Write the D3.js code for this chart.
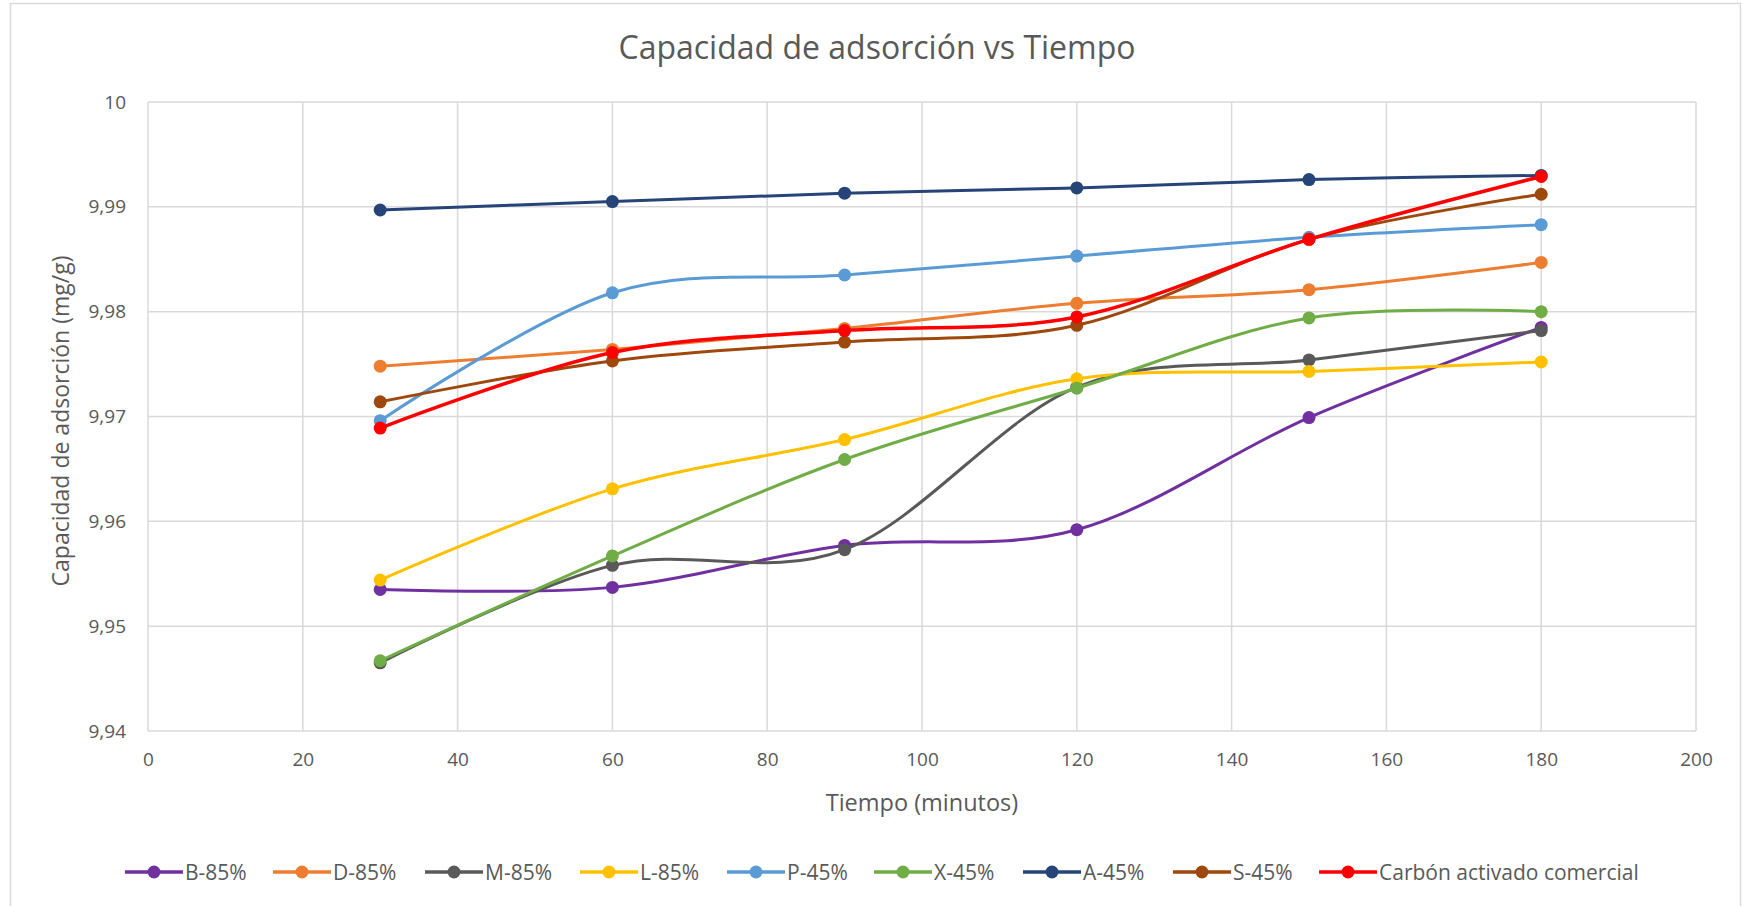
<!DOCTYPE html>
<html>
<head>
<meta charset="utf-8">
<script src="https://cdn.jsdelivr.net/npm/d3@7/dist/d3.min.js"></script>
<style>
  body { margin: 0; background: #fff; }
  text { font-family: "Open Sans", sans-serif; fill: #595959; }
</style>
</head>
<body>
<div id="chart"></div>
<script>
const times = [30, 60, 90, 120, 150, 180];
const seriesNames = ["B-85%", "D-85%", "M-85%", "L-85%", "P-45%", "X-45%", "A-45%", "S-45%", "Carbón activado comercial"];
const seriesColors = ["#7030A0", "#ED7D31", "#595959", "#FFC000", "#5B9BD5", "#70AD47", "#264478", "#9E480E", "#FF0000"];

const b85 = [9.9535, 9.9537, 9.9577, 9.9592, 9.9699, 9.9785];
const d85 = [9.9748, 9.9764, 9.9784, 9.9808, 9.9821, 9.9847];
const m85 = [9.9465, 9.9558, 9.9573, 9.9728, 9.9754, 9.9782];
const l85 = [9.9544, 9.9631, 9.9678, 9.9736, 9.9743, 9.9752];
const p45 = [9.9696, 9.9818, 9.9835, 9.9853, 9.9871, 9.9883];
const x45 = [9.9467, 9.9567, 9.9659, 9.9727, 9.9794, 9.9800];
const a45 = [9.9897, 9.9905, 9.9913, 9.9918, 9.9926, 9.9930];
const s45 = [9.9714, 9.9753, 9.9771, 9.9787, 9.9869, 9.9912];
const carbon = [9.9689, 9.9761, 9.9782, 9.9795, 9.9869, 9.9929];

const xTicks = [0, 20, 40, 60, 80, 100, 120, 140, 160, 180, 200];
const yTicks = [9.94, 9.95, 9.96, 9.97, 9.98, 9.99, 10];

const allValues = [b85, d85, m85, l85, p45, x45, a45, s45, carbon];

const W = 1742, H = 906;
const margin = {top: 102, right: 46, bottom: 175, left: 148};
const width = W - margin.left - margin.right,
	height = H - margin.top - margin.bottom;

const svg = d3.select("#chart").append("svg")
	.attr("width", W)
	.attr("height", H);

// chart frame
svg.append("rect")
	.attr("x", 10.5).attr("y", 3.5)
	.attr("width", 1730).attr("height", 930)
	.attr("fill", "none")
	.attr("stroke", "#D9D9D9")
	.attr("stroke-width", 1.5);

svg.append("text")
	.attr("x", 877).attr("y", 59)
	.attr("text-anchor", "middle")
	.style("font-size", "32px")
	.text("Capacidad de adsorción vs Tiempo");

const g = svg.append("g")
	.attr("transform", "translate(" + margin.left + "," + margin.top + ")");

const xScale = d3.scaleLinear().domain([0, 200]).range([0, width]);
const yScale = d3.scaleLinear().domain([9.94, 10]).range([height, 0]);

// gridlines
g.append("g")
	.selectAll("line")
	.data(yTicks)
	.enter().append("line")
	.attr("x1", 0).attr("x2", width)
	.attr("y1", (d) => yScale(d)).attr("y2", (d) => yScale(d))
	.attr("stroke", "#D9D9D9")
	.attr("stroke-width", 1.5);

g.append("g")
	.selectAll("line")
	.data(xTicks)
	.enter().append("line")
	.attr("x1", (d) => xScale(d)).attr("x2", (d) => xScale(d))
	.attr("y1", 0).attr("y2", height)
	.attr("stroke", "#D9D9D9")
	.attr("stroke-width", 1.5);

const fmt = (d) => String(+d.toFixed(2)).replace(".", ",");

const xAxis = d3.axisBottom(xScale).tickValues(xTicks).tickSize(0).tickPadding(22);
const yAxis = d3.axisLeft(yScale).tickValues(yTicks).tickSize(0).tickFormat(fmt).tickPadding(22);

const gx = g.append("g")
	.attr("transform", "translate(0," + height + ")")
	.call(xAxis);
const gy = g.append("g").call(yAxis);
[gx, gy].forEach((a) => {
	a.select(".domain").remove();
	a.selectAll("text").style("font-size", "19px").attr("fill", "#595959")
		.style("font-family", "'Open Sans', sans-serif");
});

svg.append("text")
	.attr("x", margin.left + width / 2).attr("y", 811)
	.attr("text-anchor", "middle")
	.style("font-size", "23.5px")
	.text("Tiempo (minutos)");

svg.append("text")
	.attr("transform", "translate(69,421) rotate(-90)")
	.attr("text-anchor", "middle")
	.style("font-size", "23px")
	.text("Capacidad de adsorción (mg/g)");

const line = d3.line()
	.x((d) => xScale(d[0]))
	.y((d) => yScale(d[1]))
	.curve(d3.curveCardinal.tension(0));

allValues.forEach((vals, i) => {
	const pts = times.map((t, j) => [t, vals[j]]);
	const s = g.append("g");
	s.append("path")
		.datum(pts)
		.attr("fill", "none")
		.attr("stroke", seriesColors[i])
		.attr("stroke-width", i === 8 ? 3.5 : 3)
		.attr("stroke-linecap", "round")
		.attr("d", line);
	s.selectAll("circle")
		.data(pts)
		.enter().append("circle")
		.attr("cx", (d) => xScale(d[0]))
		.attr("cy", (d) => yScale(d[1]))
		.attr("r", 6.5)
		.attr("fill", seriesColors[i]);
});

// legend
const legendX = [125, 273, 425, 580, 727, 874, 1023, 1173, 1319];
const legend = svg.append("g").attr("transform", "translate(0,872)");
seriesNames.forEach((name, i) => {
	const it = legend.append("g").attr("transform", "translate(" + legendX[i] + ",0)");
	it.append("line")
		.attr("x1", 0).attr("x2", 58)
		.attr("stroke", seriesColors[i])
		.attr("stroke-width", 3.5);
	it.append("circle")
		.attr("cx", 29).attr("r", 6.5)
		.attr("fill", seriesColors[i]);
	it.append("text")
		.attr("x", 60).attr("y", 7.5)
		.style("font-size", "21px")
		.text(name);
});
</script>
</body>
</html>
